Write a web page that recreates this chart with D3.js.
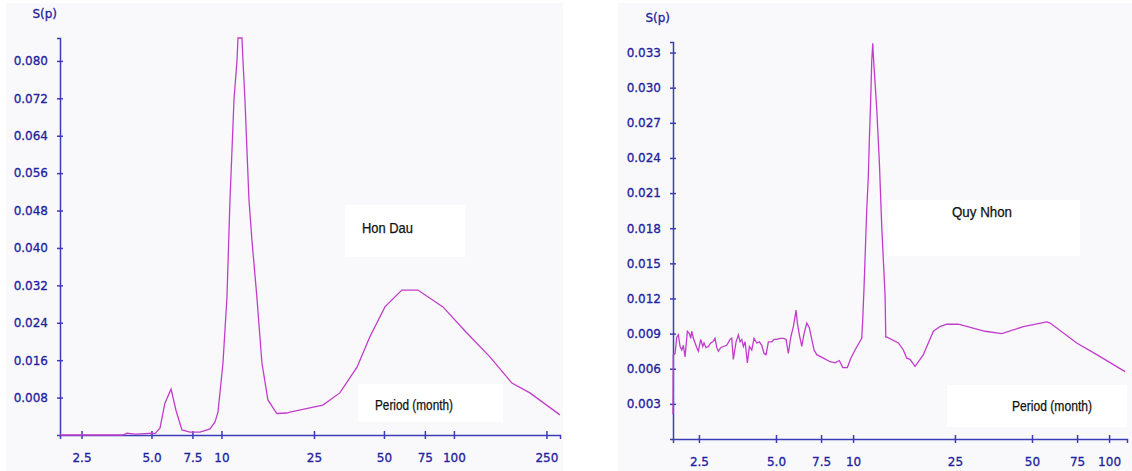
<!DOCTYPE html>
<html>
<head>
<meta charset="utf-8">
<script src="https://cdn.jsdelivr.net/npm/d3@7"></script>
<style>
  body { margin:0; background:#fff; }
  svg { display:block; }
</style>
</head>
<body>
<svg id="chart" width="1132" height="471"></svg>
<script>
// spectral density S(p) against period (months)

const honDau = [
  [2.02,0],[3.77,0],[3.92,0.0004],[4.25,0.0002],[4.69,0.0003],[5.02,0.0004],[5.18,0.0003],
  [5.44,0.0015],[5.71,0.0068],[6.07,0.0098],[6.37,0.0053],[6.76,0.0011],[7.32,0.0006],
  [8.08,0.0006],[8.93,0.0013],[9.38,0.0028],[9.66,0.0049],[10.15,0.0154],[10.56,0.0295],
  [10.88,0.0503],[11.1,0.061],[11.32,0.0717],[11.66,0.080],[11.78,0.0849],[12.25,0.0849],
  [12.37,0.0802],[12.62,0.0717],[12.87,0.061],[13.13,0.0503],[13.52,0.0417],[14.2,0.0295],
  [14.93,0.0154],[15.84,0.0075],[17.3,0.0046],[19.1,0.0047],[19.71,0.0049],[24.0,0.0058],
  [27.3,0.0064],[32.3,0.0090],[38.3,0.0145],[43.5,0.0210],[50.5,0.0274],[59.7,0.0310],
  [70.0,0.0310],[89.7,0.0274],[113.7,0.0218],[142.8,0.0167],[177.6,0.0111],[212.3,0.0090],
  [285.7,0.0043]
];

const quyNhon = [
  [1.98,0.0021],[1.985,0.0072],[2.017,0.0073],[2.048,0.0087],[2.078,0.0089],[2.110,0.0079],
  [2.143,0.0076],[2.174,0.0080],[2.207,0.0070],[2.253,0.0092],[2.294,0.0090],[2.323,0.0086],
  [2.344,0.0092],[2.378,0.0086],[2.415,0.0082],[2.452,0.0078],[2.487,0.0075],[2.541,0.0085],
  [2.588,0.0079],[2.618,0.0082],[2.665,0.0078],[2.721,0.0079],[2.780,0.0082],[2.831,0.0083],
  [2.890,0.0086],[2.935,0.0078],[2.977,0.0075],[3.042,0.0078],[3.114,0.0079],[3.211,0.0080],
  [3.307,0.0085],[3.359,0.0086],[3.407,0.0068],[3.491,0.0083],[3.565,0.0089],[3.620,0.0083],
  [3.675,0.0085],[3.729,0.0079],[3.786,0.0083],[3.866,0.0065],[3.935,0.0079],[4.021,0.0076],
  [4.105,0.0086],[4.205,0.0082],[4.305,0.0083],[4.399,0.0080],[4.490,0.0073],[4.573,0.0072],
  [4.668,0.0083],[4.813,0.0083],[4.914,0.0085],[5.035,0.0085],[5.186,0.0086],[5.343,0.0086],
  [5.474,0.0085],[5.589,0.0073],[5.710,0.0087],[5.846,0.0096],[5.989,0.0110],[6.060,0.0099],
  [6.170,0.0089],[6.304,0.0079],[6.436,0.0090],[6.594,0.0099],[6.750,0.0095],[6.898,0.0085],
  [7.042,0.0076],[7.214,0.0072],[7.656,0.0069],[8.131,0.0066],[8.504,0.0065],[8.840,0.0067],
  [9.115,0.0061],[9.50,0.0061],[9.80,0.0069],[10.18,0.0076],[10.81,0.0086],[10.91,0.0102],
  [11.04,0.0130],[11.17,0.0162],[11.31,0.0196],[11.47,0.0224],[11.58,0.0256],[11.72,0.0290],
  [11.83,0.0323],[11.94,0.0338],[12.00,0.0327],[12.19,0.0304],[12.38,0.0281],[12.67,0.0236],
  [12.94,0.0182],[13.13,0.0153],[13.34,0.0122],[13.42,0.0087],[13.58,0.0087],[15.03,0.0082],
  [15.72,0.0076],[16.21,0.0069],[16.70,0.0068],[17.47,0.0062],[18.27,0.0068],[18.82,0.0072],
  [19.41,0.0079],[20.59,0.0092],[21.87,0.0096],[23.23,0.0098],[25.78,0.0098],[32.78,0.0092],
  [38.10,0.0090],[46.27,0.0096],[57.10,0.0100],[58.84,0.0099],[74.77,0.0082],[89.54,0.0072],
  [115.5,0.00575]
];

const honDauXTicks  = [2.5, 5, 7.5, 10, 25, 50, 75, 100, 250];
const quyNhonXTicks = [2.5, 5, 7.5, 10, 25, 50, 75, 100];
const honDauYTicks  = [0.008, 0.016, 0.024, 0.032, 0.040, 0.048, 0.056, 0.064, 0.072, 0.080];
const quyNhonYTicks = [0.003, 0.006, 0.009, 0.012, 0.015, 0.018, 0.021, 0.024, 0.027, 0.030, 0.033];
const xTickFmt = d => (d === 5 ? "5.0" : String(d));

const AXIS = "#3c3cb8", TXT = "#22229e", LINE = "#c23ccb";
const svg = d3.select("#chart");

function panel(cfg) {
  // panel background
  svg.append("rect").attr("x", cfg.bg[0]).attr("y", 3)
    .attr("width", cfg.bg[1] - cfg.bg[0]).attr("height", 468).attr("fill", "#f9f9fb");

  const x = d3.scaleLog().domain(cfg.xDomain).range(cfg.xRange);
  const y = d3.scaleLinear().domain(cfg.yDomain).range(cfg.yRange);

  // white label patches
  cfg.notes.forEach(n => {
    svg.append("rect").attr("x", n.box[0]).attr("y", n.box[1])
      .attr("width", n.box[2]).attr("height", n.box[3]).attr("fill", "#fff");
  });

  const gx = svg.append("g").attr("transform", `translate(0,${cfg.yRange[0]})`)
    .call(d3.axisBottom(x).tickValues(cfg.xTicks).tickFormat(xTickFmt).tickSizeOuter(0).tickSize(4).tickPadding(14));
  const gy = svg.append("g").attr("transform", `translate(${cfg.xRange[0]},0)`)
    .call(d3.axisLeft(y).tickValues(cfg.yTicks).tickFormat(d3.format(".3f")).tickSizeOuter(0).tickSize(3).tickPadding(9));

  [gx, gy].forEach(g => {
    g.select(".domain").attr("stroke", AXIS).attr("stroke-width", 1.5);
    g.selectAll(".tick line").attr("stroke", AXIS).attr("stroke-width", 1.5);
    g.selectAll("text").attr("fill", TXT).attr("stroke", TXT).attr("stroke-width", 0.3)
      .style("font-family", "'DejaVu Sans', Verdana, sans-serif").style("font-size", "12px");
  });
  gx.selectAll(".tick line").attr("y1", -4).attr("y2", 4);
  gy.selectAll(".tick line").attr("x1", -3).attr("x2", 3);

  svg.append("text").attr("x", cfg.xRange[0] - 3).attr("y", cfg.yRange[1] - 20)
    .attr("text-anchor", "end").attr("fill", TXT).attr("stroke", TXT).attr("stroke-width", 0.3)
    .style("font-family", "'DejaVu Sans', Verdana, sans-serif").style("font-size", "12px")
    .text("S(p)");

  svg.append("path").datum(cfg.data)
    .attr("d", d3.line().x(d => x(d[0])).y(d => y(d[1])))
    .attr("fill", "none").attr("stroke", LINE).attr("stroke-width", 1.3);

  // narrow black labels, squeezed to the widths seen in the picture
  cfg.notes.forEach(n => {
    svg.append("text").attr("x", n.at[0]).attr("y", n.at[1])
      .attr("fill", "#111").attr("stroke", "#111").attr("stroke-width", 0.25)
      .attr("textLength", n.w).attr("lengthAdjust", "spacingAndGlyphs")
      .style("font-family", "'Liberation Sans', Arial, sans-serif")
      .style("font-size", "14px")
      .text(n.text);
  });
}

panel({
  data: honDau, bg: [6, 563],
  xDomain: [2.02, 286], xRange: [60, 560],
  yDomain: [0, 0.0849], yRange: [435, 38],
  xTicks: honDauXTicks, yTicks: honDauYTicks,
  notes: [
    { text: "Hon Dau", at: [362, 233], w: 51, box: [345, 205, 120, 52] },
    { text: "Period (month)", at: [375, 410], w: 78, box: [358, 384, 145, 38] }
  ]
});

panel({
  data: quyNhon, bg: [618, 1132],
  xDomain: [1.98, 117.5], xRange: [673, 1127],
  yDomain: [0, 0.0339], yRange: [439, 42],
  xTicks: quyNhonXTicks, yTicks: quyNhonYTicks,
  notes: [
    { text: "Quy Nhon", at: [952, 217], w: 60, box: [888, 200, 192, 56] },
    { text: "Period (month)", at: [1012, 411], w: 80, box: [947, 385, 180, 42] }
  ]
});
</script>
</body>
</html>
